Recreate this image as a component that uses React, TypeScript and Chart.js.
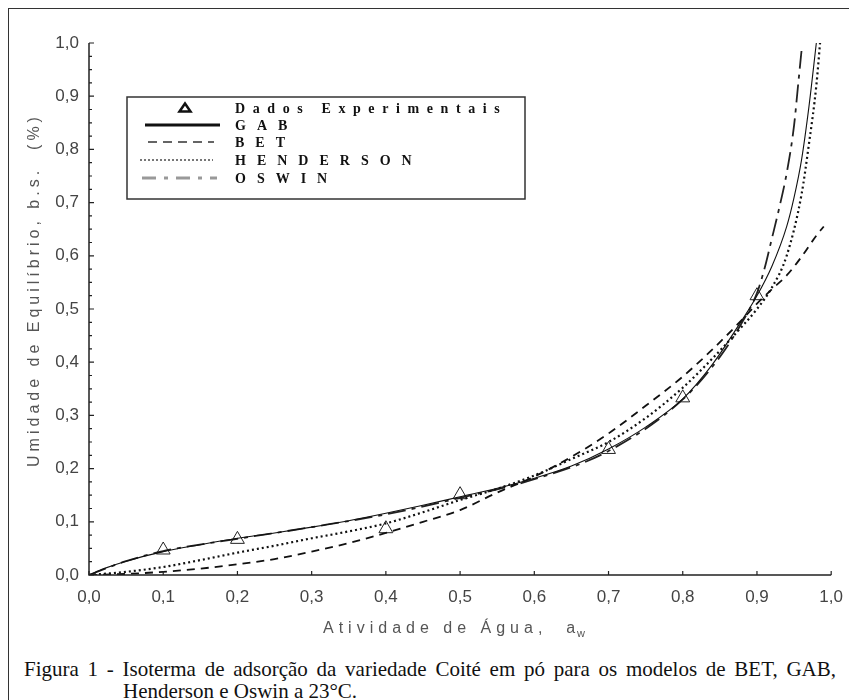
import React, { useEffect, useRef } from "react";
import { Chart, registerables } from "chart.js";
Chart.register(...registerables);

// Experimental data (triangles)
const expX = [0.1, 0.2, 0.4, 0.5, 0.7, 0.8, 0.9];
const expY = [0.047, 0.067, 0.087, 0.151, 0.236, 0.333, 0.525];

// GAB model
const gabX = [0, 0.02, 0.05, 0.1, 0.15, 0.2, 0.25, 0.3, 0.35, 0.4, 0.45, 0.5, 0.55, 0.6, 0.65, 0.7, 0.75, 0.8, 0.84, 0.87, 0.9, 0.92, 0.94, 0.95, 0.96, 0.97, 0.98];
const gabY = [0, 0.012, 0.026, 0.044, 0.057, 0.069, 0.079, 0.09, 0.102, 0.116, 0.131, 0.147, 0.163, 0.182, 0.205, 0.237, 0.278, 0.331, 0.396, 0.458, 0.525, 0.58, 0.655, 0.71, 0.78, 0.88, 1.0];

// BET model
const betX = [0, 0.05, 0.1, 0.15, 0.2, 0.25, 0.3, 0.35, 0.4, 0.45, 0.5, 0.55, 0.6, 0.65, 0.7, 0.75, 0.8, 0.84, 0.88, 0.9, 0.92, 0.94, 0.96, 0.98, 0.99];
const betY = [0, 0.002, 0.006, 0.012, 0.02, 0.03, 0.044, 0.06, 0.079, 0.1, 0.122, 0.155, 0.185, 0.222, 0.266, 0.318, 0.373, 0.424, 0.48, 0.51, 0.537, 0.563, 0.598, 0.638, 0.655];

// Henderson model
const hendX = [0, 0.05, 0.1, 0.15, 0.2, 0.25, 0.3, 0.35, 0.4, 0.45, 0.5, 0.55, 0.6, 0.65, 0.7, 0.75, 0.8, 0.84, 0.87, 0.9, 0.92, 0.94, 0.96, 0.97, 0.98, 0.985];
const hendY = [0, 0.006, 0.015, 0.028, 0.042, 0.055, 0.069, 0.082, 0.097, 0.118, 0.141, 0.162, 0.187, 0.218, 0.25, 0.295, 0.352, 0.407, 0.452, 0.5, 0.54, 0.6, 0.715, 0.81, 0.92, 1.0];

// Oswin model
const oswX = [0, 0.05, 0.1, 0.2, 0.3, 0.4, 0.5, 0.6, 0.7, 0.8, 0.85, 0.88, 0.9, 0.91, 0.92, 0.93, 0.94, 0.95, 0.955, 0.96];
const oswY = [0, 0.026, 0.045, 0.068, 0.09, 0.114, 0.145, 0.18, 0.233, 0.33, 0.41, 0.475, 0.53, 0.575, 0.632, 0.69, 0.755, 0.845, 0.915, 0.985];

const legendLabels = ["Dados Experimentais", "GAB", "BET", "HENDERSON", "OSWIN"];
const xTitle = "Atividade de Água,  a";
const xTitleSub = "w";
const yTitle = "Umidade de Equilíbrio, b.s.  (%)";
const caption = "Figura 1 - Isoterma de adsorção da variedade Coité em pó para os modelos de BET, GAB, Henderson e Oswin a 23°C.";

const pts = (xs: number[], ys: number[]) => xs.map((x, i) => ({ x, y: ys[i] }));
const fmt = (v: number) => (Math.round(v * 10) / 10).toFixed(1).replace(".", ",");

export default function App() {
  const ref = useRef<HTMLCanvasElement>(null);

  useEffect(() => {
    document.documentElement.style.overflow = "hidden";
    const canvas = ref.current!;
    const sans = "'Liberation Sans', Arial, sans-serif";
    const serif = "'Liberation Serif', 'Times New Roman', serif";

    const decor = {
      id: "decor",
      afterDraw(chart: any) {
        const ctx = chart.ctx as CanvasRenderingContext2D;
        const xs = chart.scales.x;
        const ys = chart.scales.y;
        const area = chart.chartArea;
        const x0 = xs.getPixelForValue(0);
        const x1 = xs.getPixelForValue(1);
        const y0 = ys.getPixelForValue(0);
        const y1 = ys.getPixelForValue(1);
        ctx.save();
        // axes
        ctx.strokeStyle = "#222";
        ctx.lineWidth = 1.5;
        ctx.setLineDash([]);
        ctx.beginPath();
        ctx.moveTo(x0, y1);
        ctx.lineTo(x0, y0);
        ctx.lineTo(x1, y0);
        ctx.stroke();
        ctx.lineWidth = 1.2;
        ctx.beginPath();
        for (let i = 0; i <= 10; i++) {
          const px = xs.getPixelForValue(i / 10);
          ctx.moveTo(px, y0);
          ctx.lineTo(px, y0 - 4);
        }
        for (let i = 0; i <= 40; i++) {
          const py = ys.getPixelForValue(i / 40);
          const len = i % 4 === 0 ? 5 : 3;
          ctx.moveTo(x0, py);
          ctx.lineTo(x0 + len, py);
        }
        ctx.stroke();

        // x title
        const c: any = ctx;
        ctx.fillStyle = "#555";
        ctx.font = `16px ${sans}`;
        c.letterSpacing = "5px";
        ctx.textAlign = "left";
        ctx.textBaseline = "alphabetic";
        const tx = area.left + 234;
        const ty = area.bottom + 58;
        ctx.fillText(xTitle, tx, ty);
        const w = ctx.measureText(xTitle).width;
        ctx.font = `11px ${sans}`;
        c.letterSpacing = "0px";
        ctx.fillText(xTitleSub, tx + w - 3, ty + 4);

        // y title
        ctx.save();
        ctx.translate(area.left - 54, (area.top + area.bottom) / 2 - 19);
        ctx.rotate(-Math.PI / 2);
        ctx.font = `16px ${sans}`;
        c.letterSpacing = "4px";
        ctx.textAlign = "center";
        ctx.textBaseline = "middle";
        ctx.fillText(yTitle, 0, 0);
        ctx.restore();

        // legend box
        const bl = area.left + 38;
        const bt = area.top + 54;
        const bw = 398;
        const bh = 102;
        ctx.fillStyle = "#fff";
        ctx.fillRect(bl, bt, bw, bh);
        ctx.strokeStyle = "#333";
        ctx.lineWidth = 1.5;
        ctx.setLineDash([]);
        ctx.strokeRect(bl, bt, bw, bh);
        const rows = [11, 28, 45, 63, 81];
        // triangle
        {
          const cx = bl + 58;
          const cy = bt + rows[0];
          ctx.strokeStyle = "#111";
          ctx.lineWidth = 2.5;
          ctx.beginPath();
          ctx.moveTo(cx, cy - 4.5);
          ctx.lineTo(cx + 5.5, cy + 3.5);
          ctx.lineTo(cx - 5.5, cy + 3.5);
          ctx.closePath();
          ctx.stroke();
        }
        const seg = (x1: number, x2: number, y: number, color: string, lw: number, dash: number[]) => {
          ctx.strokeStyle = color;
          ctx.lineWidth = lw;
          ctx.setLineDash(dash);
          ctx.beginPath();
          ctx.moveTo(bl + x1, bt + y);
          ctx.lineTo(bl + x2, bt + y);
          ctx.stroke();
        };
        seg(18, 93, rows[1], "#111", 3, []);
        seg(21, 87, rows[2], "#333", 1.5, [9, 6]);
        seg(13, 86, rows[3], "#777", 2, [2, 2]);
        seg(15, 90, rows[4], "#999", 3, [14, 8, 4, 8]);
        ctx.setLineDash([]);
        ctx.fillStyle = "#111";
        ctx.font = `bold 14px ${serif}`;
        ctx.textAlign = "left";
        ctx.textBaseline = "middle";
        legendLabels.forEach((t, i) => {
          c.letterSpacing = i === 0 ? "7.6px" : "11px";
          ctx.fillText(t, bl + 108, bt + rows[i] + 1);
        });
        c.letterSpacing = "0px";
        ctx.restore();
      },
    };

    const tickFont = { family: sans, size: 17 };
    const chart = new Chart(canvas, {
      type: "scatter",
      data: {
        datasets: [
          {
            label: "GAB",
            data: pts(gabX, gabY),
            showLine: true,
            borderColor: "#111",
            borderWidth: 1.1,
            pointRadius: 0,
            cubicInterpolationMode: "monotone",
          } as any,
          {
            label: "BET",
            data: pts(betX, betY),
            showLine: true,
            borderColor: "#111",
            borderWidth: 1.8,
            borderDash: [8, 6],
            pointRadius: 0,
            cubicInterpolationMode: "monotone",
          },
          {
            label: "HENDERSON",
            data: pts(hendX, hendY),
            showLine: true,
            borderColor: "#111",
            borderWidth: 2.2,
            borderDash: [2, 3],
            pointRadius: 0,
            cubicInterpolationMode: "monotone",
          },
          {
            label: "OSWIN",
            data: pts(oswX, oswY),
            showLine: true,
            borderColor: "#222",
            borderWidth: 1.8,
            borderDash: [18, 6, 4, 6],
            pointRadius: 0,
            cubicInterpolationMode: "monotone",
          },
          {
            label: "Dados Experimentais",
            data: pts(expX, expY),
            showLine: false,
            pointStyle: "triangle",
            pointRadius: 8,
            pointBorderWidth: 1,
            pointBorderColor: "#222",
            pointBackgroundColor: "rgba(0,0,0,0)",
          },
        ],
      },
      options: {
        responsive: false,
        animation: false,
        devicePixelRatio: 1,
        layout: { padding: { left: 0, top: 34, right: 17, bottom: 0 } },
        plugins: { legend: { display: false }, tooltip: { enabled: false } },
        scales: {
          x: {
            type: "linear",
            min: 0,
            max: 1,
            grid: { display: false, drawTicks: false },
            border: { display: false },
            ticks: {
              stepSize: 0.1,
              padding: 12,
              font: tickFont,
              color: "#444",
              maxRotation: 0,
              autoSkip: false,
              callback: (v: any) => fmt(Number(v)),
            },
            afterFit: (s: any) => {
              s.height = 74;
            },
          },
          y: {
            type: "linear",
            min: 0,
            max: 1,
            grid: { display: false, drawTicks: false },
            border: { display: false },
            ticks: {
              stepSize: 0.1,
              padding: 10,
              font: tickFont,
              color: "#444",
              autoSkip: false,
              callback: (v: any) => fmt(Number(v)),
            },
            afterFit: (s: any) => {
              s.width = 80;
            },
          },
        },
      } as any,
      plugins: [decor],
    });
    return () => chart.destroy();
  }, []);

  return (
    <div
      style={{
        position: "relative",
        width: 860,
        height: 720,
        border: "1px solid #333",
        boxSizing: "border-box",
        background: "#fff",
      }}
    >
      <canvas
        ref={ref}
        width={846}
        height={640}
        style={{ position: "absolute", left: 0, top: 0, width: 846, height: 640 }}
      />
      <div
        style={{
          position: "absolute",
          left: 15,
          top: 649,
          width: 812,
          boxSizing: "border-box",
          paddingLeft: 99,
          textIndent: -99,
          textAlign: "justify",
          fontFamily: "'Liberation Serif', 'Times New Roman', serif",
          fontSize: 21,
          lineHeight: "22px",
          color: "#111",
        }}
      >
        {caption}
      </div>
    </div>
  );
}
